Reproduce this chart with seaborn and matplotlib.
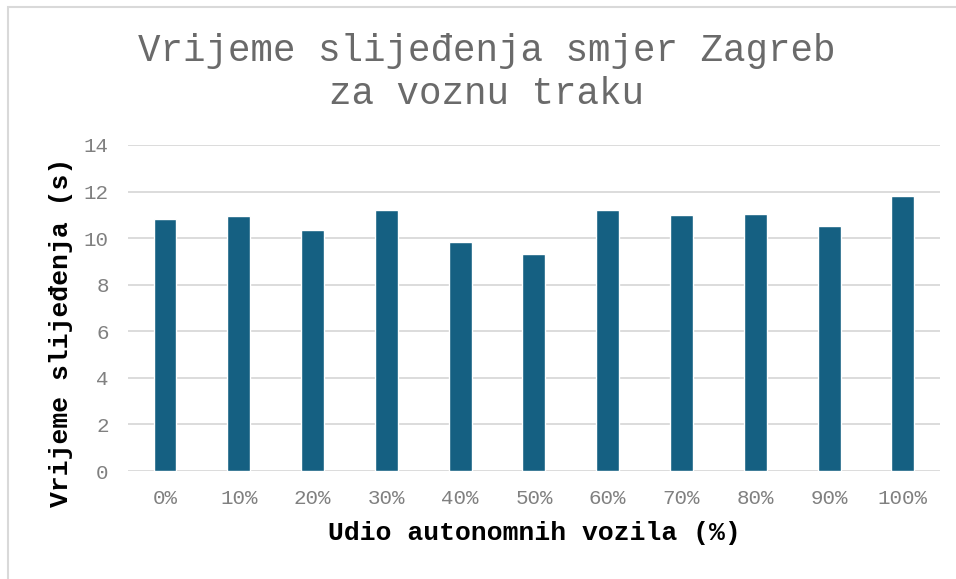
import pandas as pd
import matplotlib.pyplot as plt
import seaborn as sns
from matplotlib.patches import Rectangle

# Data
udio = ['0%', '10%', '20%', '30%', '40%', '50%', '60%', '70%', '80%', '90%', '100%']
vrijeme = [10.81, 10.95, 10.35, 11.19, 9.83, 9.32, 11.21, 10.98, 11.02, 10.51, 11.79]
y_ticks = [0, 2, 4, 6, 8, 10, 12, 14]

data = pd.DataFrame({'udio': udio, 'vrijeme': vrijeme})

sns.set_style("white")
plt.rcParams['font.family'] = ['Liberation Mono', 'DejaVu Sans Mono']

fig = plt.figure(figsize=(9.56, 5.79), dpi=100)
# chart-area border (only top and left edges fall inside the image)
fig.patches.append(Rectangle((8 / 956, -0.1), 1.2, 1.1 - 7 / 579,
                             transform=fig.transFigure, fill=False,
                             edgecolor='#d9d9d9', linewidth=1.5))

ax = fig.add_axes([0.134, 0.1865, 0.849, 0.5631])

sns.barplot(x='udio', y='vrijeme', data=data, color='#156082',
            width=0.31, saturation=1, ax=ax, zorder=3)

ax.set_ylim(0, 14)
ax.set_yticks(y_ticks)
ax.set_xlim(-0.5, len(udio) - 0.5)
ax.yaxis.grid(True, color='#d9d9d9', linewidth=1.3, zorder=0)
ax.set_axisbelow(True)
for s in ax.spines.values():
    s.set_visible(False)
ax.tick_params(axis='both', length=0, labelsize=15, labelcolor='#808080')
ax.tick_params(axis='x', pad=13)
ax.tick_params(axis='y', pad=14)

ax.set_xlabel('Udio autonomnih vozila (%)', fontsize=19, fontweight='bold',
              color='black', labelpad=9)
ax.set_ylabel('Vrijeme slijeđenja (s)', fontsize=19, fontweight='bold',
              color='black', labelpad=8)
ax.yaxis.label.set_y(0.425)

fig.text(0.509, 0.875, 'Vrijeme slijeđenja smjer Zagreb\nza voznu traku',
         ha='center', va='center', fontsize=27, color='#6a6a6a',
         linespacing=1.25)

fig.savefig('out.png', dpi=100)
